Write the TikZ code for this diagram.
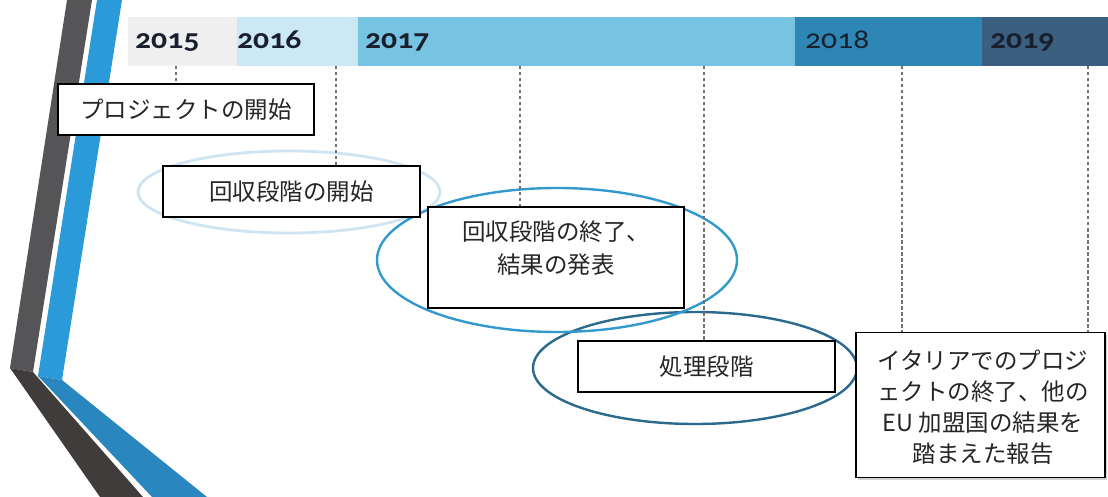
\documentclass[tikz,border=0pt]{standalone}
\usepackage{fontspec}
\newfontfamily\jp{Noto Sans CJK JP}
\newfontfamily\yearfont[FakeStretch=1.15,Numbers=OldStyle]{Carlito}
\usetikzlibrary{shadows}
\definecolor{greyup}{HTML}{555557}
\definecolor{greylow}{HTML}{403C3C}
\definecolor{blueup}{HTML}{2A9AD8}
\definecolor{bluelow}{HTML}{2A86BF}
\definecolor{cfifteen}{HTML}{EFEFEF}
\definecolor{csixteen}{HTML}{CCE8F4}
\definecolor{cseventeen}{HTML}{77C4E2}
\definecolor{ceighteen}{HTML}{2E86B4}
\definecolor{cnineteen}{HTML}{3B607F}
\definecolor{yeartext}{HTML}{1A1F2E}
\definecolor{ellA}{HTML}{CFE5F1}
\definecolor{ellB}{HTML}{3399CC}
\definecolor{ellC}{HTML}{2B6A8F}
\tikzset{
  box/.style={draw=black, line width=1.4pt, fill=white, inner sep=0pt},
  jptext/.style={font=\jp\fontsize{23.5}{31}\selectfont, align=center, inner sep=0pt, text=black!85},
  year/.style={font=\yearfont\bfseries\fontsize{27.5}{30}\selectfont, anchor=base west, inner sep=0pt, text=yeartext},
  dashline/.style={draw=black!55, line width=2pt, dash pattern=on 3.5pt off 2.5pt},
  ell/.style={line width=2.4pt}
}
\begin{document}
\begin{tikzpicture}[x=1pt,y=-1pt]
\useasboundingbox (0,0) rectangle (1108,497);
\fill[white] (0,0) rectangle (1108,497);

% left chevron decoration
\fill[greyup] (67,0) -- (92,0) -- (33,372) -- (10,368) -- cycle;
\fill[greylow] (10,368) -- (33,372) -- (143,497) -- (100,497) -- cycle;
\fill[blueup] (97,0) -- (122,0) -- (62,380) -- (38,376) -- cycle;
\fill[bluelow] (38,376) -- (62,380) -- (207,497) -- (152,497) -- cycle;

% timeline bar
\fill[cfifteen] (128,17) rectangle (237,66);
\fill[csixteen] (237,17) rectangle (358,66);
\fill[cseventeen] (358,17) rectangle (795,66);
\fill[ceighteen] (795,17) rectangle (982,66);
\fill[cnineteen] (982,17) rectangle (1108,66);

\node[year] (y15) at (135,49) {2015};
\node[year] (y16) at (237,49) {2016};
\node[year] (y17) at (365,49) {2017};
\node[year, font=\yearfont\fontsize{27.5}{30}\selectfont] (y18) at (805,49) {2018};
\node[year] (y19) at (990,49) {2019};

\coordinate (d1) at (176,66);
\coordinate (d2) at (336,66);
\coordinate (d3) at (520,66);
\coordinate (d4) at (704,66);
\coordinate (d5) at (902,66);
\coordinate (d6) at (1088,66);

% ellipses
\draw[ell, ellA, line width=2.8pt] (289,192) ellipse [x radius=151, y radius=41];
\draw[ell, ellC] (695,368) ellipse [x radius=162, y radius=56];
\draw[ell, ellB] (557,260) ellipse [x radius=180, y radius=72];

% boxes
\node[box, minimum width=256pt, minimum height=51pt] (b1) at (186,109.5) {};
\node[box, minimum width=257pt, minimum height=51pt] (b2) at (291.5,191.5) {};
\node[box, minimum width=256pt, minimum height=101pt] (b3) at (556,257.5) {};
\node[box, minimum width=257pt, minimum height=51pt] (b4) at (706.5,366.5) {};
\node[box, minimum width=249pt, minimum height=145pt, drop shadow={shadow xshift=2pt, shadow yshift=-2.5pt, opacity=0.35}] (b5) at (980.5,405) {};

% dashed guide lines
\draw[dashline] (d1) -- (d1 |- b1.north);
\draw[dashline] (d2) -- (d2 |- b2.north);
\draw[dashline] (d3) -- (d3 |- b3.north);
\draw[dashline] (d4) -- (d4 |- b4.north);
\draw[dashline] (d5) -- (d5 |- b5.north);
\draw[dashline] (d6) -- (d6 |- b5.north);

% texts
\node[jptext] (t1) at (b1) {プロジェクトの開始};
\node[jptext] (t2) at (b2) {回収段階の開始};
\node[jptext, font=\jp\fontsize{23.5}{33}\selectfont] (t3) at (556,248) {回収段階の終了、\\結果の発表};
\node[jptext] (t4) at (b4) {処理段階};
\node[jptext] (t5) at (983,407) {イタリアでのプロジ\\ェクトの終了、他の\\EU 加盟国の結果を\\踏まえた報告};
\end{tikzpicture}
\end{document}
